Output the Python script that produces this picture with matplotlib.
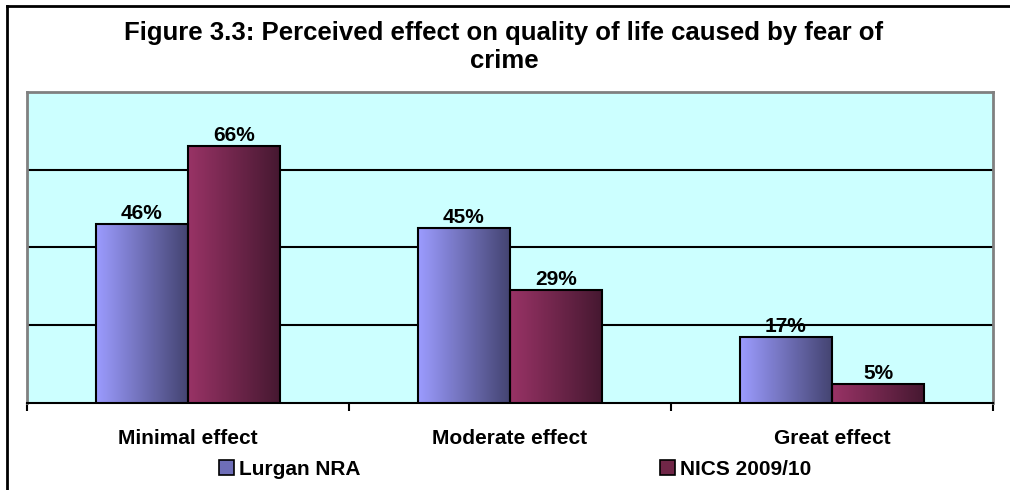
import numpy as np
import matplotlib.pyplot as plt
from matplotlib.patches import Patch
from matplotlib.lines import Line2D
from matplotlib.colors import LinearSegmentedColormap

categories = ["Minimal effect", "Moderate effect", "Great effect"]
series_names = ["Lurgan NRA", "NICS 2009/10"]
lurgan = [46, 45, 17]
nics = [66, 29, 5]
grad_colors = [("#9c9cff", "#434370"), ("#993366", "#451830")]

plt.rcParams['font.family'] = ['Liberation Sans', 'DejaVu Sans']

fig = plt.figure(figsize=(10.1, 4.9), dpi=100)
ax = fig.add_axes([27 / 1010, 87 / 490, 966 / 1010, 311 / 490])
ax.set_facecolor("#ccffff")

x = np.arange(len(categories))
width = 0.286
ramp = np.linspace(0, 1, 256).reshape(1, -1)

for i, (vals, (c0, c1)) in enumerate(zip([lurgan, nics], grad_colors)):
    cmap = LinearSegmentedColormap.from_list(f"g{i}", [c0, c1])
    offs = x + (i - 0.5) * width
    for xc, v in zip(offs, vals):
        ax.imshow(ramp, cmap=cmap, extent=[xc - width / 2, xc + width / 2, 0, v],
                  aspect='auto', zorder=3, interpolation='bilinear')
        ax.text(xc, v + 1.3, f"{v}%", ha='center', va='baseline',
                fontsize=15, fontweight='bold', zorder=5)
    ax.bar(offs, vals, width, fill=False, edgecolor='black', linewidth=1.5, zorder=4)

ax.set_xlim(-0.5, 2.5)
ax.set_ylim(0, 80)

for yv in [20, 40, 60]:
    ax.axhline(yv, color='black', linewidth=1.5, zorder=2)

ax.set_yticks([])
ax.set_xticks([-0.5, 0.5, 1.5, 2.5])
ax.set_xticklabels([])
ax.tick_params(axis='x', which='major', length=6, width=1.5, direction='out')
ax.set_xticks(x, minor=True)
ax.set_xticklabels(categories, minor=True, fontsize=15, fontweight='bold')
ax.tick_params(axis='x', which='minor', length=0, pad=18.5)

for s in ['left', 'right', 'top']:
    ax.spines[s].set_color('#808080')
    ax.spines[s].set_linewidth(2)
ax.spines['bottom'].set_color('black')
ax.spines['bottom'].set_linewidth(1.5)

fig.text(0.499, 1 - 68 / 490,
         "Figure 3.3: Perceived effect on quality of life caused by fear of\ncrime",
         ha='center', va='baseline', fontsize=18.5, fontweight='bold',
         linespacing=1.2, multialignment='center')

handles = [Patch(facecolor="#6e6eb8", edgecolor='black', linewidth=1.2),
           Patch(facecolor="#702647", edgecolor='black', linewidth=1.2)]
fig.legend(handles, series_names, loc='center', bbox_to_anchor=(515 / 1010, 1 - 469.5 / 490),
           ncol=2, frameon=False, prop={'weight': 'bold', 'size': 15},
           handlelength=0.72, handleheight=0.72, handletextpad=0.24, columnspacing=14.4,
           borderpad=0, borderaxespad=0)

# outer frame (left and top only)
fig.add_artist(Line2D([7 / 1010, 7 / 1010], [0, 1 - 6 / 490], color='black', linewidth=2,
                      transform=fig.transFigure))
fig.add_artist(Line2D([7 / 1010, 1], [1 - 6 / 490, 1 - 6 / 490], color='black', linewidth=2,
                      transform=fig.transFigure))

fig.savefig("out.png", dpi=100)
